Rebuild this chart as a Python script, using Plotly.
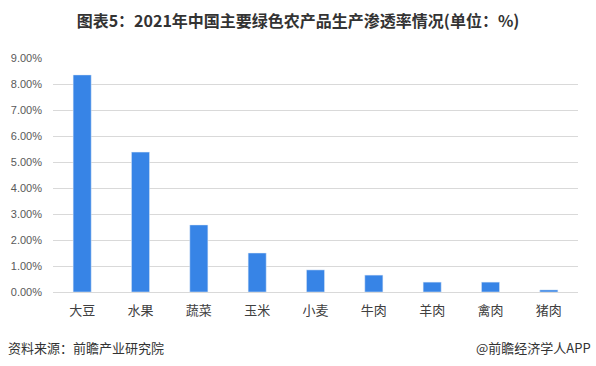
import plotly.graph_objects as go

categories = ["大豆", "水果", "蔬菜", "玉米", "小麦", "牛肉", "羊肉", "禽肉", "猪肉"]
values = [8.35, 5.38, 2.58, 1.50, 0.85, 0.65, 0.38, 0.38, 0.08]
y_ticks = [0, 1, 2, 3, 4, 5, 6, 7, 8, 9]
y_tick_labels = [f"{v:.2f}%" for v in y_ticks]

FONT = "Noto Sans CJK SC, Noto Sans, sans-serif"

fig = go.Figure(go.Bar(
    x=categories, y=values, marker_color="#3784e6", width=0.31,
))

fig.update_layout(
    width=596, height=366,
    margin=dict(l=53, r=18, t=58, b=74),
    paper_bgcolor="white", plot_bgcolor="white",
    showlegend=False,
    font=dict(family=FONT, color="#595959", size=11),
    title=dict(text="<b>图表5：2021年中国主要绿色农产品生产渗透率情况(单位：%)</b>",
               x=0.5, xanchor="center", xref="container", y=1 - 21 / 366, yanchor="middle",
               font=dict(size=16, color="#333333", family=FONT)),
    yaxis=dict(range=[0, 9], tickvals=y_ticks, ticktext=y_tick_labels,
               showgrid=True, gridcolor="#d9d9d9", gridwidth=1, zeroline=False,
               showline=False, ticks="", ticklabelstandoff=10,
               tickfont=dict(size=11, color="#595959", family="Liberation Sans, Arial, sans-serif")),
    xaxis=dict(showline=True, linecolor="#d9d9d9", linewidth=1, ticks="",
               ticklabelstandoff=6,
               tickfont=dict(size=13, color="#404040")),
)

fig.add_annotation(text="资料来源：前瞻产业研究院", x=(6 - 53) / 525, y=(292 - 347) / 234,
                   xref="paper", yref="paper",
                   showarrow=False, xanchor="left", yanchor="middle",
                   font=dict(size=13, color="#333333", family=FONT))
fig.add_annotation(text="@前瞻经济学人APP", x=(593 - 53) / 525, y=(292 - 347) / 234,
                   xref="paper", yref="paper",
                   showarrow=False, xanchor="right", yanchor="middle",
                   font=dict(size=13, color="#333333", family=FONT))

fig.write_html("out.html", config={"displayModeBar": False},
               post_script="document.body.style.margin='0';document.body.style.padding='0';")
